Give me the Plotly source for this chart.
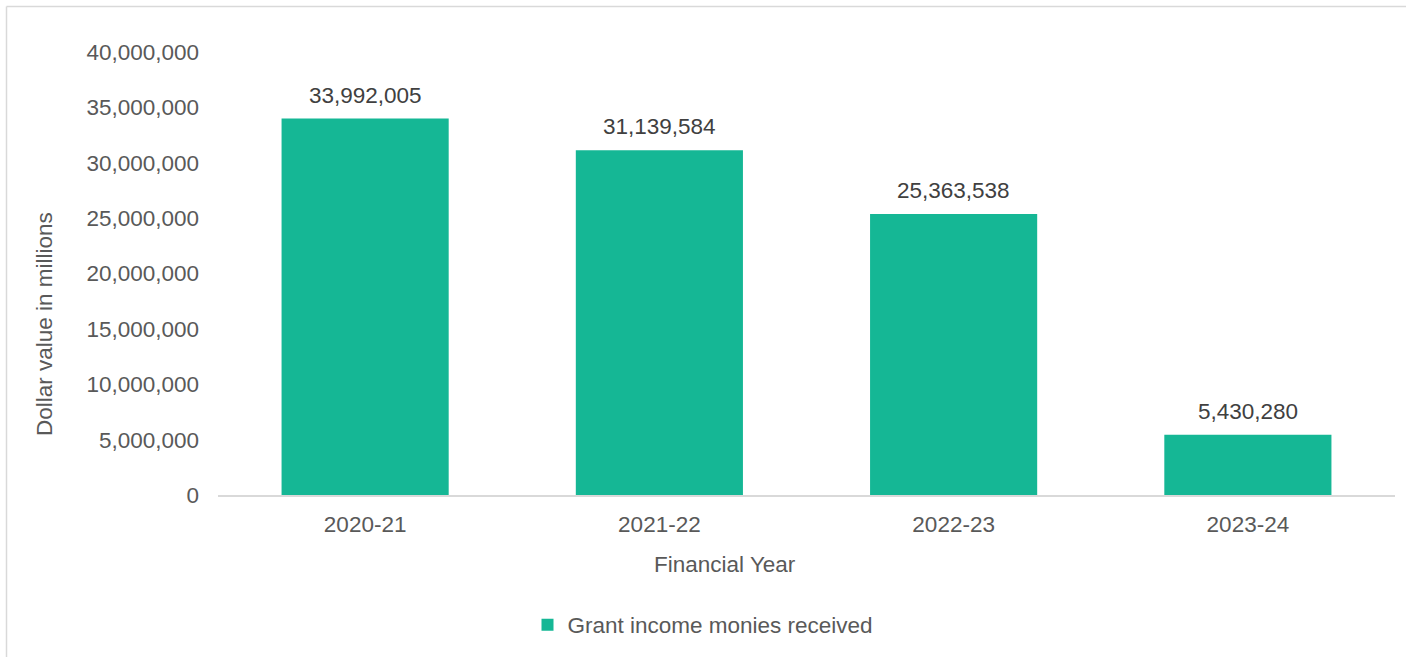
import plotly.graph_objects as go

years = ["2020-21", "2021-22", "2022-23", "2023-24"]
grant_income = [33992005, 31139584, 25363538, 5430280]
series_name = "Grant income monies received"
x_title = "Financial Year"
y_title = "Dollar value in millions"
y_ticks = [0, 5000000, 10000000, 15000000, 20000000, 25000000, 30000000, 35000000, 40000000]

FONT = "Liberation Sans, Arial, sans-serif"
FS = 22.5
W, H = 1406, 657
L, R, T, B = 218, 11, 52, 162
pw = W - L - R
ph = H - T - B

def px_x(px):
    return (px - L) / pw

def px_y(py):
    return (H - B - py) / ph

fig = go.Figure()
fig.add_trace(go.Bar(
    x=years, y=grant_income, name=series_name,
    marker=dict(color="#15B795", line=dict(width=0)),
    showlegend=True,
))

for yr, v in zip(years, grant_income):
    fig.add_annotation(x=yr, y=v, text=f"{v:,}", showarrow=False, yanchor="bottom",
                       yshift=9, font=dict(size=FS, color="#404040", family=FONT))

# axis titles (positioned like the reference, off-centre)
fig.add_annotation(xref="paper", yref="paper", x=px_x(725), y=px_y(564), text=x_title,
                   showarrow=False, xanchor="center", yanchor="middle",
                   font=dict(size=FS, color="#595959", family=FONT))
fig.add_annotation(xref="paper", yref="paper", x=px_x(44), y=px_y(324), text=y_title,
                   textangle=-90, showarrow=False, xanchor="center", yanchor="middle",
                   font=dict(size=FS, color="#595959", family=FONT))

border = "#D9D9D9"
x_left = px_x(6.5)
y_top = px_y(6.5)
fig.add_shape(type="line", xref="paper", yref="paper", x0=x_left, x1=1.2, y0=y_top, y1=y_top,
              line=dict(color=border, width=1.5))
fig.add_shape(type="line", xref="paper", yref="paper", x0=x_left, x1=x_left, y0=y_top, y1=-0.5,
              line=dict(color=border, width=1.5))

fig.update_layout(
    width=W, height=H,
    margin=dict(l=L, r=R, t=T, b=B, autoexpand=False),
    paper_bgcolor="white", plot_bgcolor="white",
    font=dict(family=FONT, size=FS, color="#595959"),
    bargap=0.432,
    showlegend=True,
    legend=dict(orientation="h", xref="container", yref="container", x=0.5, xanchor="center",
                y=1 - 625 / H, yanchor="middle", font=dict(size=FS, color="#595959"),
                itemwidth=30, traceorder="normal"),
    xaxis=dict(
        showline=True, linecolor=border, linewidth=1.5, showgrid=False, ticks="",
        ticklabelstandoff=8,
        tickfont=dict(size=FS, color="#595959"),
    ),
    yaxis=dict(
        range=[0, 40000000], tickvals=y_ticks, tickformat=",d",
        showgrid=False, showline=False, zeroline=False, ticks="",
        ticklabelstandoff=18,
        tickfont=dict(size=FS, color="#595959"),
    ),
)

fig.write_html("out.html", config={"displayModeBar": False},
               post_script="document.body.style.margin='0';document.body.style.overflow='hidden';")
